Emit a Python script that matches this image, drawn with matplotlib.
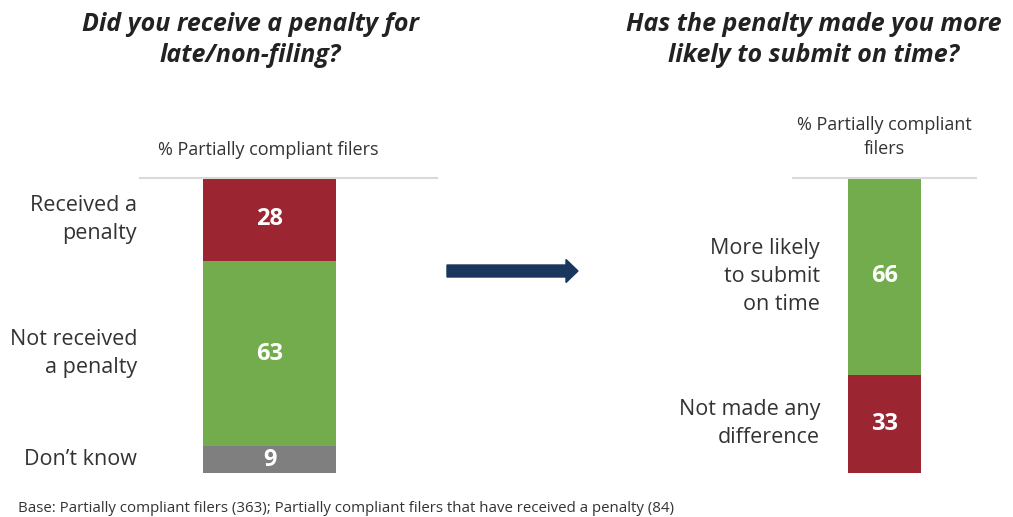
import matplotlib
matplotlib.use("Agg")
from matplotlib import pyplot as plt
from matplotlib import transforms
from matplotlib.lines import Line2D
from matplotlib.patches import FancyArrow

plt.rcParams['font.family'] = ['Open Sans', 'DejaVu Sans']

# Received a penalty?
penalty_labels = ["Received a\npenalty", "Not received\na penalty", "Don\u2019t know"]
penalty_values = [28, 63, 9]
penalty_colors = ["#9B2530", "#72AC4D", "#7F7F7F"]

# Effect of the penalty
effect_labels = ["More likely\nto submit\non time", "Not made any\ndifference"]
effect_values = [66, 33]
effect_colors = ["#72AC4D", "#9B2530"]

W, H = 1013, 517
fig = plt.figure(figsize=(W / 100, H / 100), dpi=100)


def px(x, y, w, h):
    return [x / W, 1 - (y + h) / H, w / W, h / H]


def stacked(rect, labels, values, colors, label_x):
    ax = fig.add_axes(px(*rect))
    total = sum(values)
    bottom = 0
    trans = transforms.blended_transform_factory(fig.transFigure, ax.transData)
    for lab, val, col in zip(labels, values, colors):
        ax.bar(0, val, bottom=bottom, width=1, color=col)
        mid = bottom + val / 2
        ax.text(0, mid, str(val), ha='center', va='center', color='white',
                fontsize=17, fontweight='bold')
        ax.text(label_x / W, mid, lab, transform=trans, ha='right', va='center',
                fontsize=15.5, color='#333333', linespacing=1.45)
        bottom += val
    ax.set_xlim(-0.5, 0.5)
    ax.set_ylim(total, 0)
    ax.axis('off')
    return ax


stacked((203, 178, 133, 295), penalty_labels, penalty_values, penalty_colors, 137)
stacked((848, 178, 73, 295), effect_labels, effect_values, effect_colors, 820)

# header rules
for x0, x1 in [(140, 437), (793, 976)]:
    fig.add_artist(Line2D([x0 / W, x1 / W], [1 - 178 / H] * 2, color='#D9D9D9', lw=1.5))

fig.text(268 / W, 1 - 150 / H, "% Partially compliant filers", ha='center', va='center',
         fontsize=13, color='#333333')
fig.text(884 / W, 1 - 137 / H, "% Partially compliant\nfilers", ha='center', va='center',
         fontsize=13, color='#333333', linespacing=1.45)

title_kw = dict(ha='center', va='center', fontsize=18, fontweight='bold', style='italic',
                color='#222222', linespacing=1.35)
fig.text(250 / W, 1 - 40 / H, "Did you receive a penalty for\nlate/non-filing?", **title_kw)
fig.text(814 / W, 1 - 40 / H, "Has the penalty made you more\nlikely to submit on time?", **title_kw)

arrow = FancyArrow(447 / W, 1 - 271 / H, 131 / W, 0, width=12 / H, head_width=23 / H,
                   head_length=12 / W, length_includes_head=True, color='#1B365D',
                   transform=fig.transFigure)
fig.add_artist(arrow)

fig.text(18 / W, 1 - 508 / H,
         "Base: Partially compliant filers (363); Partially compliant filers that have received a penalty (84)",
         ha='left', va='center', fontsize=10.8, color='#333333')

fig.savefig("out.png", dpi=100)
